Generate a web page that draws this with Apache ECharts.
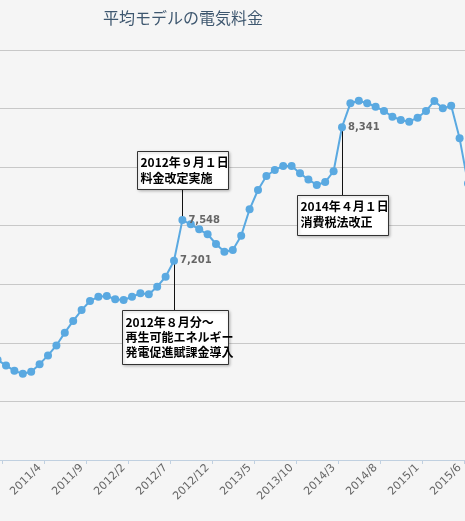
<!DOCTYPE html>
<html>
<head>
<meta charset="utf-8">
<script src="https://cdn.jsdelivr.net/npm/echarts@6/dist/echarts.min.js"></script>
<style>
html,body{margin:0;padding:0;background:#f5f5f5;}
#main{width:465px;height:521px;}
</style>
</head>
<body>
<div id="main"></div>
<script>
const chartTitle = '平均モデルの電気料金';
const categories = [
  '2010/11','2010/12',
  '2011/1','2011/2','2011/3','2011/4','2011/5','2011/6','2011/7','2011/8','2011/9','2011/10','2011/11','2011/12',
  '2012/1','2012/2','2012/3','2012/4','2012/5','2012/6','2012/7','2012/8','2012/9','2012/10','2012/11','2012/12',
  '2013/1','2013/2','2013/3','2013/4','2013/5','2013/6','2013/7','2013/8','2013/9','2013/10','2013/11','2013/12',
  '2014/1','2014/2','2014/3','2014/4','2014/5','2014/6','2014/7','2014/8','2014/9','2014/10','2014/11','2014/12',
  '2015/1','2015/2','2015/3','2015/4','2015/5','2015/6','2015/7'
];
const values = [
  6355,6307,
  6261,6237,6254,6318,6393,6478,6587,6687,6780,6857,6894,6900,
  6872,6866,6894,6923,6915,6979,7065,7201,7548,7512,7469,7427,
  7344,7278,7293,7415,7640,7805,7924,7976,8010,8010,7947,7894,
  7848,7873,7965,8341,8545,8567,8545,8516,8479,8431,8402,8388,
  8422,8479,8565,8502,8525,8246,7860
];
const labelledMonths = ['2012/8','2012/9','2014/4'];
const yTicks = [5500, 6000, 6500, 7000, 7500, 8000, 8500, 9000];
const noteMonths = ['2012/9','2012/8','2014/4'];
const noteTexts = [
  ['2012年９月１日','料金改定実施'],
  ['2012年８月分～','再生可能エネルギー','発電促進賦課金導入'],
  ['2014年４月１日','消費税法改正']
];

// layout / style (offsets of each note box from its point)
const noteLayout = [
  {dx:-45, dy:-69, w:91, h:38, pt:3, lh:16},
  {dx:-52, dy:49, w:106, h:54, pt:4, lh:15},
  {dx:-45, dy:68, w:91, h:40, pt:3, lh:16}
];

const fmt = v => v.toLocaleString('en-US');
const seriesData = values.map((v, i) => {
  if (labelledMonths.indexOf(categories[i]) >= 0) {
    return {value: v, label: {show: true}};
  }
  return v;
});

const chart = echarts.init(document.getElementById('main'));
chart.setOption({
  animation: false,
  backgroundColor: '#f5f5f5',
  title: {
    text: chartTitle,
    left: 98, top: 5,
    textStyle: {fontSize: 16, fontWeight: 'normal', color: '#3E576F', fontFamily: '"Noto Sans CJK JP", sans-serif'}
  },
  grid: {left: -6.6, right: -7.2, top: 50, bottom: 61, containLabel: false, outerBoundsMode: 'none'},
  xAxis: {
    type: 'category',
    data: categories,
    boundaryGap: true,
    axisLine: {lineStyle: {color: '#C0D0E0', width: 1}},
    axisTick: {show: true, length: 4, interval: (i) => i % 5 === 1, lineStyle: {color: '#C0D0E0'}},
    axisLabel: {
      interval: (i) => i % 5 === 0 && i > 0,
      rotate: 45, margin: 6,
      color: '#666', fontSize: 11, fontFamily: '"DejaVu Sans", sans-serif'
    },
    splitLine: {show: false}
  },
  yAxis: {
    type: 'value',
    min: yTicks[0], max: yTicks[yTicks.length - 1], interval: 500,
    axisLine: {show: false}, axisTick: {show: false}, axisLabel: {show: false},
    splitLine: {lineStyle: {color: '#C8C8C8', width: 1}}
  },
  series: [{
    type: 'line',
    data: seriesData,
    symbol: 'circle',
    symbolSize: 8,
    showAllSymbol: true,
    lineStyle: {color: '#5aa9e1', width: 2},
    itemStyle: {color: '#5aa9e1'},
    label: {
      show: false, position: 'right', distance: 2,
      formatter: p => fmt(p.value),
      color: '#666', fontSize: 10, fontWeight: 'bold', fontFamily: '"DejaVu Sans", sans-serif'
    },
    z: 5
  }]
});

const graphics = [];
noteMonths.forEach((m, k) => {
  const idx = categories.indexOf(m);
  const p = chart.convertToPixel({xAxisIndex: 0, yAxisIndex: 0}, [idx, values[idx]]);
  const L = noteLayout[k];
  const px = Math.round(p[0]) + 0.5;
  const bx = Math.round(p[0] + L.dx) + 0.5;
  const by = Math.round(p[1] + L.dy) + 0.5;
  const endY = L.dy < 0 ? by + L.h : by;
  graphics.push({type: 'line', z: 4, shape: {x1: px, y1: p[1], x2: px, y2: endY}, style: {stroke: '#111', lineWidth: 1}});
  graphics.push({type: 'rect', z: 10, shape: {x: bx, y: by, width: L.w, height: L.h},
    style: {fill: '#fff', stroke: '#333', lineWidth: 1, shadowBlur: 3, shadowColor: 'rgba(0,0,0,0.25)', shadowOffsetX: 1, shadowOffsetY: 1}});
  graphics.push({type: 'text', z: 11, x: bx + 3, y: by + L.pt,
    style: {text: noteTexts[k].join('\n'), fill: '#000', fontSize: 12, fontWeight: 'bold', lineHeight: L.lh,
      fontFamily: '"Noto Sans CJK JP", sans-serif', verticalAlign: 'top', align: 'left'}});
});
chart.setOption({graphic: graphics});
</script>
</body>
</html>
